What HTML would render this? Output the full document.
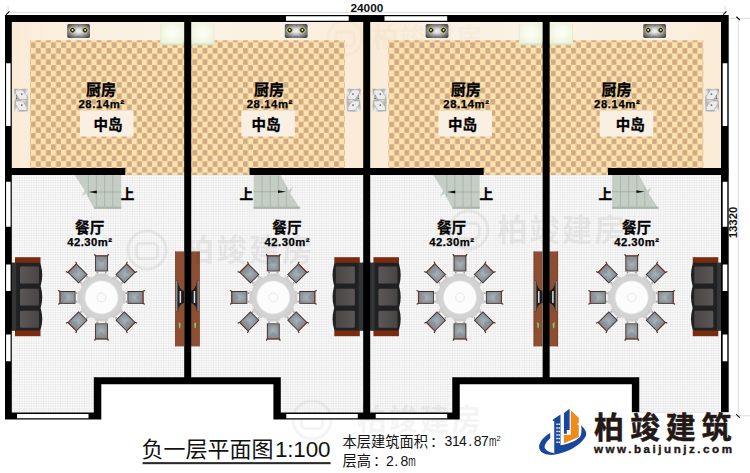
<!DOCTYPE html>
<html lang="zh"><head><meta charset="utf-8"><title>负一层平面图1:100</title>
<style>html,body{margin:0;padding:0;background:#fff;}body{width:750px;height:473px;overflow:hidden;font-family:"Liberation Sans","Noto Sans CJK SC",sans-serif;}svg{display:block}text{font-family:"Liberation Sans","Noto Sans CJK SC",sans-serif;}</style>
</head><body>
<svg width="750" height="473" viewBox="0 0 750 473">
<defs>
<pattern id="chk" width="10.12" height="11.32" patternUnits="userSpaceOnUse" patternTransform="translate(30.7 42.35)"><rect width="10.12" height="11.32" fill="#fce2ab"/><rect x="0.15" y="0.15" width="4.76" height="5.36" fill="#d1a985"/><rect x="5.21" y="5.81" width="4.76" height="5.36" fill="#d1a985"/></pattern>
<pattern id="tile" width="2.4" height="2.4" patternUnits="userSpaceOnUse"><rect width="2.4" height="2.4" fill="#fafafa"/><path d="M0 0.4H2.4M0.4 0V2.4" stroke="#ebebeb" stroke-width="0.8" fill="none"/></pattern>
<linearGradient id="marble" x1="0" y1="0" x2="1" y2="0"><stop offset="0" stop-color="#faebd5"/><stop offset="0.3" stop-color="#fbf0e0"/><stop offset="1" stop-color="#fbf2e5"/></linearGradient>
<radialGradient id="stoveg" cx="0.5" cy="0.5" r="0.62"><stop offset="0" stop-color="#f4f4f6"/><stop offset="0.25" stop-color="#dcdce0"/><stop offset="0.6" stop-color="#97979d"/><stop offset="1" stop-color="#48484c"/></radialGradient>
<radialGradient id="fridgeg" cx="0.5" cy="0.45" r="0.6"><stop offset="0" stop-color="#fdfff8"/><stop offset="0.55" stop-color="#f5f9e9"/><stop offset="1" stop-color="#eaf2d9"/></radialGradient>
<linearGradient id="sinkg" x1="0" y1="0" x2="1" y2="1"><stop offset="0" stop-color="#9a9a9a"/><stop offset="0.2" stop-color="#e8e8e8"/><stop offset="0.4" stop-color="#b0b0b0"/><stop offset="0.55" stop-color="#eeeeee"/><stop offset="0.75" stop-color="#b4b4b4"/><stop offset="1" stop-color="#dcdcdc"/></linearGradient>
<radialGradient id="seatg" cx="0.5" cy="0.5" r="0.6"><stop offset="0" stop-color="#adb5ba"/><stop offset="1" stop-color="#858e94"/></radialGradient>
<linearGradient id="cush" x1="0" y1="0" x2="1" y2="0"><stop offset="0" stop-color="#5c5757"/><stop offset="1" stop-color="#4a4545"/></linearGradient>
<g id="stove"><rect width="22.8" height="13.8" rx="1.6" fill="url(#stoveg)"/><g id="burner"><rect x="-2.9" y="-2.9" width="5.8" height="5.8" rx="1.3" fill="#c8c178" transform="translate(5.3 6) rotate(45)"/><rect x="-2.1" y="-2.1" width="4.2" height="4.2" rx="1.2" fill="#23230b" transform="translate(5.3 6) rotate(45)"/><circle cx="5.3" cy="6" r="1" fill="#f2f2b4"/></g><use href="#burner" x="12.6"/><circle cx="11.2" cy="1.6" r="0.5" fill="#444"/><circle cx="10.2" cy="12.4" r="0.45" fill="#555"/><circle cx="12.6" cy="12.4" r="0.45" fill="#555"/></g>
<g id="fridge"><rect width="23" height="21.8" fill="url(#fridgeg)"/><rect y="20.2" width="23" height="1.6" fill="#d8e4c6"/><rect width="0.7" height="21.8" fill="#e0ead0"/></g>
<g id="sink"><rect width="14" height="23" rx="0.8" fill="url(#sinkg)"/><path d="M1.2 1.2 L8.6 1.2 L12.8 7.6 L12.8 10.8 L5.4 10.8 L1.2 4.4Z" fill="#ececec" stroke="#8f8f8f" stroke-width="0.5"/><path d="M1.2 12.2 L8.6 12.2 L12.8 18.6 L12.8 21.8 L5.4 21.8 L1.2 15.4Z" fill="#ececec" stroke="#8f8f8f" stroke-width="0.5"/><circle cx="7.6" cy="5.4" r="0.9" fill="#666"/><circle cx="7.6" cy="16.4" r="0.9" fill="#666"/><circle cx="2.4" cy="9.6" r="0.7" fill="#444"/><circle cx="2.4" cy="7.2" r="0.6" fill="#555"/></g>
<g id="chair"><rect x="-6.4" y="-8" width="12.8" height="16" fill="#3f2926"/><rect x="-6.4" y="-8" width="12.8" height="1.2" fill="#7a3424"/><rect x="-5.5" y="-6.8" width="11" height="14" fill="url(#seatg)"/><path d="M-5.5 -6.8 L0 0.2 L5.5 -6.8 Z" fill="#7d878d" opacity="0.5"/><path d="M-6.9 -9.4 L-6.2 -7.4 M6.9 -9.4 L6.2 -7.4" stroke="#3f2926" stroke-width="1.1" fill="none"/><circle cx="-4.2" cy="9.2" r="0.9" fill="#777" opacity="0.7"/><circle cx="4.2" cy="9.2" r="0.9" fill="#777" opacity="0.7"/></g>
<g id="dset">
<use href="#chair" transform="rotate(0) translate(0 -34)"/>
<use href="#chair" transform="rotate(45) translate(0 -34)"/>
<use href="#chair" transform="rotate(90) translate(0 -34)"/>
<use href="#chair" transform="rotate(135) translate(0 -34)"/>
<use href="#chair" transform="rotate(180) translate(0 -34)"/>
<use href="#chair" transform="rotate(225) translate(0 -34)"/>
<use href="#chair" transform="rotate(270) translate(0 -34)"/>
<use href="#chair" transform="rotate(315) translate(0 -34)"/>
<rect x="-6.4" y="-24" width="12.8" height="6" rx="1.5" fill="#d0d0d0" transform="rotate(0)"/>
<rect x="-6.4" y="-24" width="12.8" height="6" rx="1.5" fill="#d0d0d0" transform="rotate(45)"/>
<rect x="-6.4" y="-24" width="12.8" height="6" rx="1.5" fill="#d0d0d0" transform="rotate(90)"/>
<rect x="-6.4" y="-24" width="12.8" height="6" rx="1.5" fill="#d0d0d0" transform="rotate(135)"/>
<rect x="-6.4" y="-24" width="12.8" height="6" rx="1.5" fill="#d0d0d0" transform="rotate(180)"/>
<rect x="-6.4" y="-24" width="12.8" height="6" rx="1.5" fill="#d0d0d0" transform="rotate(225)"/>
<rect x="-6.4" y="-24" width="12.8" height="6" rx="1.5" fill="#d0d0d0" transform="rotate(270)"/>
<rect x="-6.4" y="-24" width="12.8" height="6" rx="1.5" fill="#d0d0d0" transform="rotate(315)"/>
<circle r="22.1" fill="#d3d3d3"/><circle r="22.1" fill="none" stroke="#c4c4c4" stroke-width="0.5"/><circle r="17" fill="#e2e2e2"/><circle r="16.1" fill="#fcfcfc"/><circle r="4.4" fill="none" stroke="#e8e8e8" stroke-width="1"/></g>
<g id="sofa"><rect x="4" y="0" width="25.5" height="6.2" fill="#7a2b0d"/><rect x="4" y="72.8" width="25.5" height="6.2" fill="#7a2b0d"/><path d="M0 5.6 H28.4 Q29.8 5.6 29.9 8 Q32.6 17.5 29.9 27.6 Q29.3 28.8 29.9 30 Q32.6 39.5 29.9 49.6 Q29.3 50.8 29.9 52 Q32.6 61.5 29.9 71 Q29.8 73.4 28.4 73.4 H0 Z" fill="#202122"/><rect x="0" y="5.6" width="5.2" height="67.8" fill="#323436"/><rect x="9" y="9.2" width="19" height="17" rx="1.2" fill="url(#cush)"/><rect x="9" y="31.6" width="19" height="16.6" rx="1.2" fill="url(#cush)"/><rect x="9" y="53.6" width="19" height="17" rx="1.2" fill="url(#cush)"/></g>
<g id="tv"><rect x="0" y="0" width="8.8" height="95" fill="#8e4e32"/><rect x="8.2" y="0" width="0.6" height="95" fill="#6e3a24"/><path d="M6.2 29.6 Q5.2 38 0 39.6 L0 51.4 Q5.2 53 6.2 60 Z" fill="#1d1d1d"/><rect x="5.9" y="28.8" width="2.2" height="31.6" rx="0.5" fill="#4e4e4e"/><rect x="7" y="29.6" width="0.7" height="30" fill="#a9a9a9"/><rect x="2.9" y="39.6" width="1.5" height="12" rx="0.4" fill="#dedede"/><path d="M3.4 72 L5.4 70.6 L5 76.4 L3.8 77Z" fill="#7ccf6a"/></g>
<g id="stairs"><path d="M74.7 175 L121.2 175 L121.2 208.7 L94.2 208.7 L86 193.5 L81.8 196.6 L84.6 190.5 Z" fill="#c4cec5"/><path d="M88.4 175V197 M96.4 175V208 M104.6 175V208 M112.8 175V208" stroke="#a9b3aa" stroke-width="0.9" fill="none"/><path d="M96 192 H121.2" stroke="#9aa39b" stroke-width="0.7"/><path d="M88.6 192 L96.8 190.6 L96.8 193.4 Z" fill="#111"/></g>
<g id="stairsA"><use href="#stairs"/><path d="M94.2 207.7 H121.2" stroke="#aab4ab" stroke-width="2"/></g>
<g id="stairsB"><g transform="translate(0 383.7) scale(1 -1)"><use href="#stairs"/></g><path d="M74.7 207.7 H121.2" stroke="#aab4ab" stroke-width="2"/></g>
<g id="unitfloor"><rect x="11" y="21" width="174" height="148" fill="url(#marble)"/><rect x="30" y="40.3" width="155" height="128.7" fill="url(#chk)"/><rect x="125.3" y="168" width="59.7" height="7" fill="url(#chk)"/><path d="M11 175 H185 V378 H94 V414 H11 Z" fill="url(#tile)"/><use href="#stove" x="67.2" y="24.1"/><use href="#fridge" x="160.5" y="23.3"/><use href="#sink" x="14.2" y="88.7"/><rect x="80" y="110.5" width="53.5" height="26" fill="#f9efe3"/><use href="#sofa" x="11" y="257.2"/><use href="#dset" x="101.5" y="297.4"/><g transform="translate(184 251.4) scale(-1 1)"><use href="#tv"/></g></g>
<g id="unitwalls"><rect x="5" y="168" width="120.3" height="7" fill="#000"/></g>
<g id="pair"><use href="#unitfloor"/><use href="#stairsA"/><use href="#unitwalls"/><g transform="translate(374.8 0) scale(-1 1)"><use href="#unitfloor"/><use href="#stairsB"/><use href="#unitwalls"/></g></g>
</defs>
<rect width="750" height="473" fill="#fff"/>
<use href="#pair"/>
<use href="#pair" x="358.45"/>
<g opacity="0.05" fill="#000"><text x="183.2 216.2 249.1 282" y="260.9" font-size="30.8" font-weight="bold" fill="#000">柏竣建房</text><circle cx="147" cy="250" r="19" fill="none" stroke="#000" stroke-width="3.04"/><rect x="136.55" y="243.35" width="20.9" height="15.2" rx="3.8" fill="none" stroke="#000" stroke-width="2.85"/></g>
<g opacity="0.05" fill="#000"><text x="497.2 529.6 562 594.4" y="240.7" font-size="30.4" font-weight="bold" fill="#000">柏竣建房</text><circle cx="468.8" cy="230" r="19" fill="none" stroke="#000" stroke-width="3.04"/><rect x="458.35" y="223.35" width="20.9" height="15.2" rx="3.8" fill="none" stroke="#000" stroke-width="2.85"/></g>
<g opacity="0.04" fill="#000"><text x="357.2 388.6 420 451.4" y="430.4" font-size="29.4" font-weight="bold" fill="#000">柏竣建房</text><circle cx="312" cy="420" r="19" fill="none" stroke="#000" stroke-width="3.04"/><rect x="301.55" y="413.35" width="20.9" height="15.2" rx="3.8" fill="none" stroke="#000" stroke-width="2.85"/></g>
<g opacity="0.016" fill="#000"><text x="372.2 400.1 428 455.9" y="47.3" font-size="26.2" font-weight="bold" fill="#000">柏竣建房</text><circle cx="345" cy="38" r="17" fill="none" stroke="#000" stroke-width="2.72"/><rect x="335.65" y="32.05" width="18.7" height="13.6" rx="3.4" fill="none" stroke="#000" stroke-width="2.55"/></g>
<path d="M5 15h723.7v7h-723.7zM5 15h6.8v404.5h-6.8zM721 15h7.7v404.5h-7.7zM184.2 15h7v369.2h-7zM363.2 15h7v404.5h-7zM542.65 15h7v369.2h-7zM93.8 377.2h187v7h-187zM93.8 377.2h7.5v42.3h-7.5zM273.4 377.2h7.4v42.3h-7.4zM5 412.5h96.3v7h-96.3zM273.4 412.5h96.8v7h-96.8zM452.25 377.2h187v7h-187zM452.25 377.2h7.5v42.3h-7.5zM631.85 377.2h7.4v42.3h-7.4zM363.45 412.5h96.3v7h-96.3zM631.85 412.5h96.8v7h-96.8z" fill="#000"/>
<path d="M6.1 63.3h4.5v62.7h-4.5zM722.7 63.3h4.6v62.7h-4.6zM6.1 181.7h4.5v45h-4.5zM722.7 181.7h4.6v45h-4.6zM6.1 264.5h4.5v26.5h-4.5zM722.7 264.5h4.6v26.5h-4.6zM6.1 334.5h4.5v26.7h-4.5zM722.7 334.5h4.6v26.7h-4.6zM286 16.3h62.7v4.4h-62.7zM384.5 16.3h62.7v4.4h-62.7zM17 414h71.5v4.3h-71.5zM286.3 414h71.5v4.3h-71.5zM375.7 414h71.5v4.3h-71.5zM644.7 414h71.5v4.3h-71.5z" fill="#fff"/>
<path d="M8 12.7H725 M8 5.5V11 M725 5.5V11 M730 18.3H750 M738.2 20V415.8 M730.5 415.8H750" stroke="#dcdcdc" stroke-width="1" fill="none"/>
<path d="M6 14.8 L9.4 11.4 M723.2 14.6 L726.5 11.4 M736.4 16.8 L739.8 20 M736.2 414.4 L739.8 417.6" stroke="#111" stroke-width="1.2" fill="none"/>
<rect x="530" y="412.2" width="200" height="61" fill="#fff"/>
<text x="85.88" y="95.2" font-size="15" font-weight="bold" fill="#000" stroke="#000" stroke-width="0.3">厨房</text>
<text x="101.3" y="107.8" font-size="11.3" font-weight="bold" text-anchor="middle" fill="#000" textLength="45.6" lengthAdjust="spacing" stroke="#000" stroke-width="0.25">28.14m²</text>
<text x="93.52" y="130" font-size="14.5" font-weight="bold" fill="#000" stroke="#000" stroke-width="0.3">中岛</text>
<text x="254.08" y="95.2" font-size="15" font-weight="bold" fill="#000" stroke="#000" stroke-width="0.3">厨房</text>
<text x="269.5" y="107.8" font-size="11.3" font-weight="bold" text-anchor="middle" fill="#000" textLength="45.6" lengthAdjust="spacing" stroke="#000" stroke-width="0.25">28.14m²</text>
<text x="251.52" y="130" font-size="14.5" font-weight="bold" fill="#000" stroke="#000" stroke-width="0.3">中岛</text>
<text x="450.68" y="95.2" font-size="15" font-weight="bold" fill="#000" stroke="#000" stroke-width="0.3">厨房</text>
<text x="466.1" y="107.8" font-size="11.3" font-weight="bold" text-anchor="middle" fill="#000" textLength="45.6" lengthAdjust="spacing" stroke="#000" stroke-width="0.25">28.14m²</text>
<text x="447.92" y="130" font-size="14.5" font-weight="bold" fill="#000" stroke="#000" stroke-width="0.3">中岛</text>
<text x="601.48" y="95.2" font-size="15" font-weight="bold" fill="#000" stroke="#000" stroke-width="0.3">厨房</text>
<text x="616.9" y="107.8" font-size="11.3" font-weight="bold" text-anchor="middle" fill="#000" textLength="45.6" lengthAdjust="spacing" stroke="#000" stroke-width="0.25">28.14m²</text>
<text x="615.82" y="130" font-size="14.5" font-weight="bold" fill="#000" stroke="#000" stroke-width="0.3">中岛</text>
<text x="75.07" y="233.4" font-size="14.6" font-weight="bold" fill="#000" stroke="#000" stroke-width="0.3">餐厅</text>
<text x="89.7" y="246.3" font-size="11.3" font-weight="bold" text-anchor="middle" fill="#000" textLength="44.8" lengthAdjust="spacing" stroke="#000" stroke-width="0.25">42.30m²</text>
<text x="272.37" y="233.4" font-size="14.6" font-weight="bold" fill="#000" stroke="#000" stroke-width="0.3">餐厅</text>
<text x="287" y="246.3" font-size="11.3" font-weight="bold" text-anchor="middle" fill="#000" textLength="44.8" lengthAdjust="spacing" stroke="#000" stroke-width="0.25">42.30m²</text>
<text x="436.97" y="233.4" font-size="14.6" font-weight="bold" fill="#000" stroke="#000" stroke-width="0.3">餐厅</text>
<text x="451.6" y="246.3" font-size="11.3" font-weight="bold" text-anchor="middle" fill="#000" textLength="44.8" lengthAdjust="spacing" stroke="#000" stroke-width="0.25">42.30m²</text>
<text x="621.97" y="233.4" font-size="14.6" font-weight="bold" fill="#000" stroke="#000" stroke-width="0.3">餐厅</text>
<text x="636.6" y="246.3" font-size="11.3" font-weight="bold" text-anchor="middle" fill="#000" textLength="44.8" lengthAdjust="spacing" stroke="#000" stroke-width="0.25">42.30m²</text>
<text x="120.8" y="198.6" font-size="13.6" font-weight="bold" fill="#000" stroke="#000" stroke-width="0.3">上</text>
<text x="239.6" y="198.6" font-size="13.6" font-weight="bold" fill="#000" stroke="#000" stroke-width="0.3">上</text>
<text x="479.5" y="198.6" font-size="13.6" font-weight="bold" fill="#000" stroke="#000" stroke-width="0.3">上</text>
<text x="598.4" y="198.6" font-size="13.6" font-weight="bold" fill="#000" stroke="#000" stroke-width="0.3">上</text>
<text x="366.9" y="11.8" font-size="11.8" font-weight="bold" text-anchor="middle" fill="#111" >24000</text>
<text transform="translate(737.4 222.5) rotate(-90)" font-size="11.4" font-weight="bold" text-anchor="middle" fill="#111">13320</text>
<text x="141.4" y="456.6" font-size="22" fill="#111" textLength="132" lengthAdjust="spacing">负一层平面图</text>
<text x="274.9" y="456.5" font-size="22.4" font-weight="normal" text-anchor="start" fill="#111" textLength="55.6" lengthAdjust="spacing">1:100</text>
<rect x="142.6" y="462.1" width="188" height="2.1" fill="#2a2a2a"/>
<text x="342.4" y="447.3" font-size="14.25" fill="#111" textLength="85.5" lengthAdjust="spacing">本层建筑面积</text>
<text x="430.1" y="447.3" font-size="14.25" fill="#111">：</text>
<text y="446.2" font-size="14" fill="#111" x="444.5 451.9 459.1 468.2 473.7 481.1">314.87</text>
<text transform="translate(488.9 446.2) scale(0.64 1)" font-size="14" fill="#111">m</text>
<text x="496.6" y="441.2" font-size="7.5" fill="#111">2</text>
<text x="342.4" y="466.4" font-size="14.25" fill="#111" textLength="28.5" lengthAdjust="spacing">层高</text>
<text x="373.1" y="466.4" font-size="14.25" fill="#111">：</text>
<text y="465.5" font-size="14" fill="#111" x="386 394.2 400.5">2.8</text>
<text transform="translate(408.2 465.5) scale(0.64 1)" font-size="14" fill="#111">m</text>
<g id="logo">
<path d="M550.25 433.08 C542.84 437.07 537.71 443.91 539.42 449.04 C541.13 453.83 548.54 455.54 554.24 454.86 L554.24 453.03 C548.54 452.46 544.55 449.61 544.55 446.76 C544.89 443.34 547.4 440.72 550.25 438.21 Z" fill="#18479d"/>
<path d="M552.88 419.62 L560.52 414.6 L560.52 445.28 C569.07 444.14 575.91 440.72 580.01 437.07 C581.38 433.87 581.84 431.14 581.15 425.21 C586.17 430.23 587.08 433.87 585.71 436.16 C581.61 443.91 571.35 450.18 560.52 453.26 L554.24 454.86 L554.24 421.1 L552.88 421.1 Z" fill="#18479d"/>
<path d="M563.94 412.89 L569.64 408.79 L569.64 430 L566.79 430 L566.79 433.87 L563.94 433.87 Z" fill="#18479d"/>
<path d="M570.78 410.27 L578.76 417.68 L578.76 422.93 L576.82 424.07 L578.76 425.44 L578.76 437.07 L563.94 443.34 L563.94 434.79 L570.78 434.79 Z" fill="#f08a1b"/>
<path d="M556.3 423.61 L557.78 423.61 L557.78 425.09 L556.3 425.09 ZM558.46 423.61 L559.95 423.61 L559.95 425.09 L558.46 425.09 ZM556.3 427.15 L557.78 427.15 L557.78 428.63 L556.3 428.63 ZM558.46 427.15 L559.95 427.15 L559.95 428.63 L558.46 428.63 ZM556.3 430.8 L557.78 430.8 L557.78 432.28 L556.3 432.28 ZM558.46 430.8 L559.95 430.8 L559.95 432.28 L558.46 432.28 ZM556.3 434.33 L557.78 434.33 L557.78 435.81 L556.3 435.81 ZM558.46 434.33 L559.95 434.33 L559.95 435.81 L558.46 435.81 ZM556.3 437.87 L557.78 437.87 L557.78 439.35 L556.3 439.35 ZM558.46 437.87 L559.95 437.87 L559.95 439.35 L558.46 439.35 ZM556.3 441.4 L557.78 441.4 L557.78 442.88 L556.3 442.88 ZM558.46 441.4 L559.95 441.4 L559.95 442.88 L558.46 442.88 Z" fill="#fff"/>
<text x="594 629.9 665.7 701.5" y="437.6" font-size="30" font-weight="bold" fill="#231815" stroke="#231815" stroke-width="0.5">柏竣建筑</text>
<text x="594" y="453.2" font-size="11.6" font-weight="bold" fill="#231815" stroke="#231815" stroke-width="0.4" textLength="138" lengthAdjust="spacing">www.baijunjz.com</text>
</g>
</svg>
</body></html>
